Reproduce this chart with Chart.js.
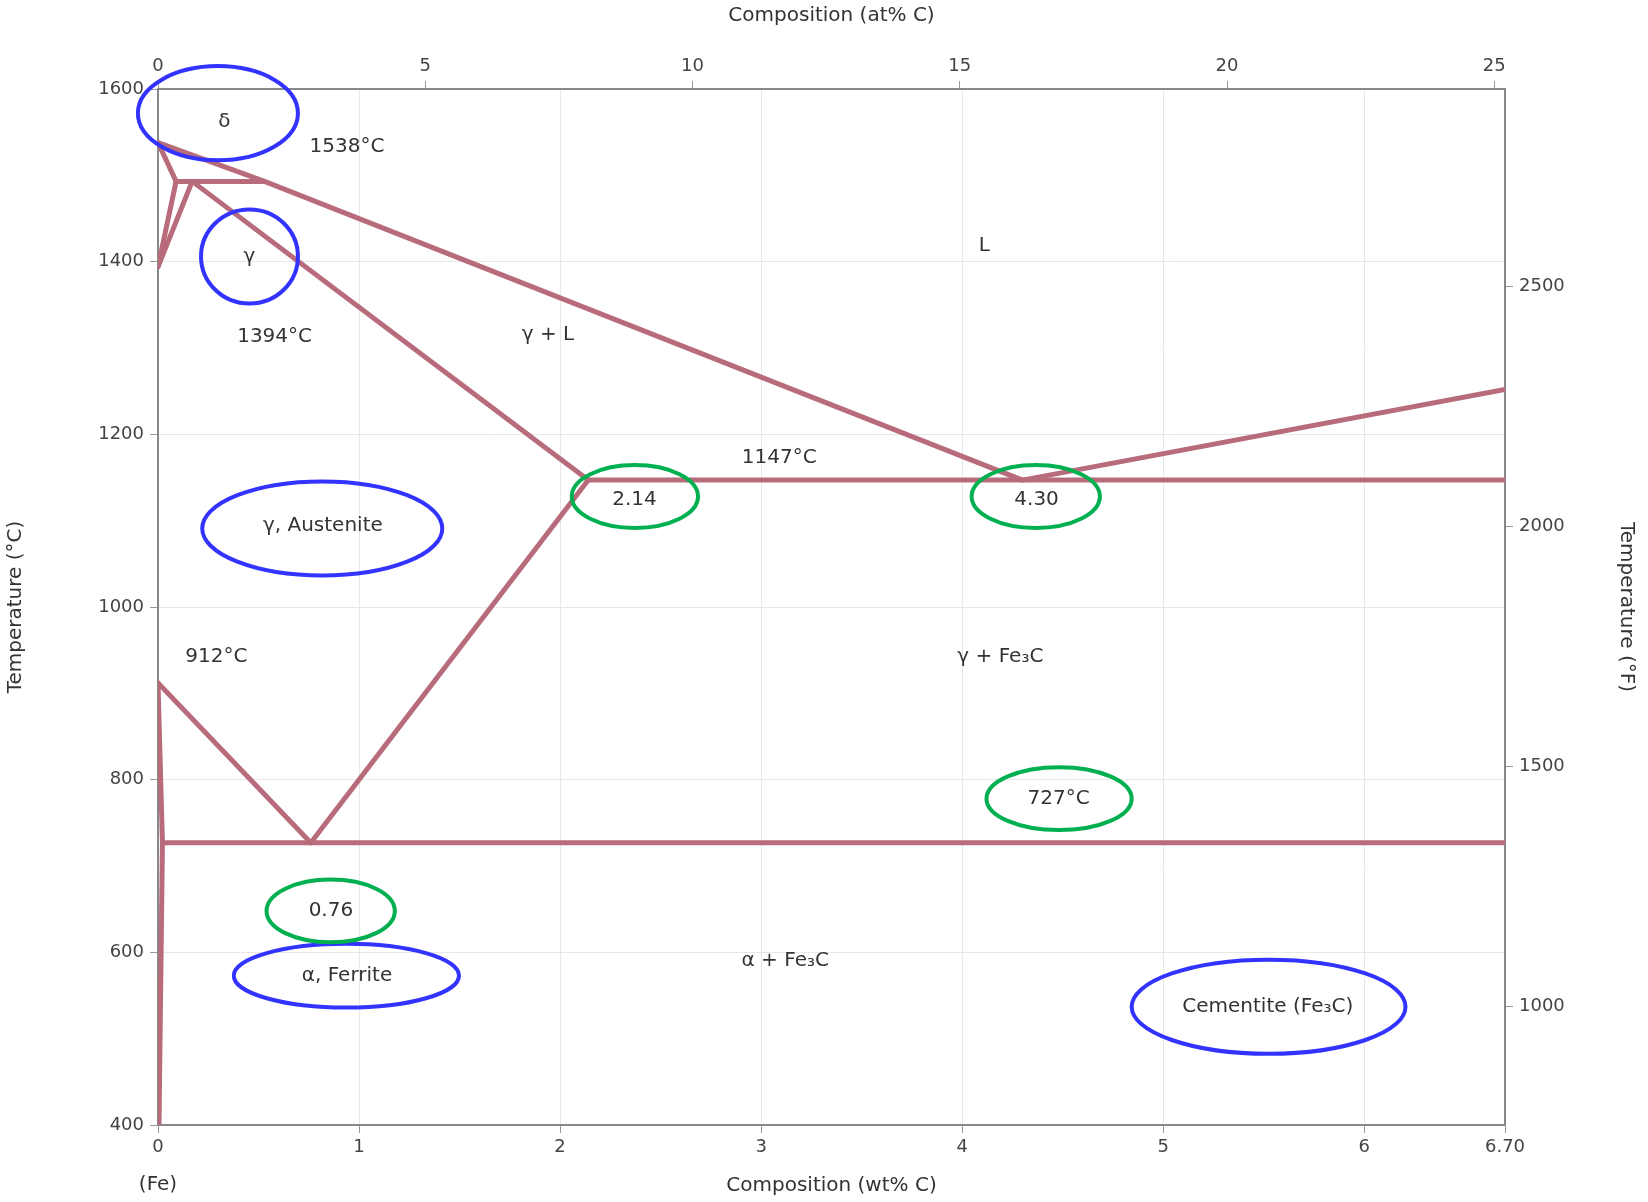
<!DOCTYPE html>
<html>
<head>
<meta charset="utf-8">
<title>Iron–iron carbide phase diagram</title>
<script src="https://cdn.jsdelivr.net/npm/chart.js@4.4.1/dist/chart.umd.min.js"></script>
<style>
  html, body { margin: 0; padding: 0; background: #ffffff; }
  #wrap { width: 1648px; height: 1202px; }
</style>
</head>
<body>
<div id="wrap"><canvas id="c" width="1648" height="1202"></canvas></div>
<script>
// Phase boundaries of the Fe–Fe3C system: [wt% C, °C]
const liquidus          = [[0, 1538], [0.53, 1493], [4.30, 1147], [6.70, 1252]];
const deltaSolidus      = [[0, 1538], [0.09, 1493]];
const peritecticLine    = [[0.09, 1493], [0.53, 1493]];
const deltaSolvus       = [[0, 1394], [0.09, 1493]];
const gammaDeltaLine    = [[0, 1394], [0.17, 1493]];
const gammaSolidus      = [[0.17, 1493], [2.14, 1147]];
const eutecticLine      = [[2.14, 1147], [6.70, 1147]];
const acmLine           = [[2.14, 1147], [0.76, 727]];
const a3Line            = [[0, 912], [0.76, 727]];
const ferriteSolvusHigh = [[0, 912], [0.022, 727]];
const eutectoidLine     = [[0.022, 727], [6.70, 727]];
const ferriteSolvusLow  = [[0.022, 727], [0.005, 400]];

// Tick values for the four axes
const wtTicks = [0, 1, 2, 3, 4, 5, 6, 6.70];
const atTicks = [0, 5, 10, 15, 20, 25];
const celsiusTicks = [400, 600, 800, 1000, 1200, 1400, 1600];
const fahrenheitTicks = [1000, 1500, 2000, 2500];

// Region and point labels: text, wt% C, °C
const labelText = ['δ', '1538°C', 'γ', '1394°C', 'γ + L', 'L', '1147°C', '2.14', '4.30',
                   'γ, Austenite', '912°C', 'γ + Fe₃C', '727°C', '0.76', 'α, Ferrite',
                   'α + Fe₃C', 'Cementite (Fe₃C)'];
const labelWt   = [0.33, 0.94, 0.455, 0.58, 1.94, 4.11, 3.09, 2.37, 4.37,
                   0.82, 0.29, 4.19, 4.48, 0.86, 0.94, 3.12, 5.52];
const labelTemp = [1562, 1533, 1406, 1313, 1315, 1418, 1173, 1124, 1124,
                   1094, 942, 942, 778, 648, 573, 590, 537];

// Highlight rings: centre (wt% C, °C) and half-extents in the same units
const ringColor = ['blue', 'blue', 'blue', 'blue', 'blue', 'green', 'green', 'green', 'green'];
const ringWt    = [0.298, 0.455, 0.817, 0.937, 5.524, 2.372, 4.366, 4.482, 0.859];
const ringTemp  = [1572, 1406, 1091, 573, 537, 1128, 1128, 778, 648];
const ringHalfW = [0.398, 0.241, 0.597, 0.560, 0.681, 0.314, 0.319, 0.361, 0.319];
const ringHalfH = [54.5, 54.5, 54.5, 37, 54.5, 36.4, 36.4, 36.4, 36.4];

const WT_MAX = 6.70;
const AT_MAX = 25.2;
const T_MIN = 400, T_MAX = 1600;
const cToF = c => c * 9 / 5 + 32;

const LINE = '#b86b7a';
const FONT = '"DejaVu Sans", "Liberation Sans", sans-serif';

const boundaries = [liquidus, deltaSolidus, peritecticLine, deltaSolvus, gammaDeltaLine,
  gammaSolidus, eutecticLine, acmLine, a3Line, ferriteSolvusHigh, eutectoidLine, ferriteSolvusLow];

const datasets = boundaries.map(seg => ({
  data: seg.map(p => ({ x: p[0], y: p[1] })),
  showLine: true,
  borderColor: LINE,
  borderWidth: 5,
  pointRadius: 0,
  fill: false,
  tension: 0,
  borderCapStyle: 'round',
  borderJoinStyle: 'round'
}));

const fixSize = (prop, size) => scale => { scale[prop] = size; };
const setTicks = values => scale => { scale.ticks = values.map(v => ({ value: v })); };
const plain = v => String(v);

const overlay = {
  id: 'overlay',
  afterDatasetsDraw(chart) {
    const { ctx, scales: { x, y } } = chart;
    ctx.save();
    ctx.fillStyle = '#333333';
    ctx.font = '20px ' + FONT;
    ctx.textAlign = 'center';
    ctx.textBaseline = 'middle';
    labelText.forEach((t, i) => {
      ctx.fillText(t, x.getPixelForValue(labelWt[i]), y.getPixelForValue(labelTemp[i]));
    });
    // "(Fe)" under the zero composition tick
    ctx.fillText('(Fe)', x.getPixelForValue(0), chart.chartArea.bottom + 60);

    ringWt.forEach((w, i) => {
      const cx = x.getPixelForValue(w);
      const cy = y.getPixelForValue(ringTemp[i]);
      const rx = Math.abs(x.getPixelForValue(w + ringHalfW[i]) - cx);
      const ry = Math.abs(y.getPixelForValue(ringTemp[i] + ringHalfH[i]) - cy);
      ctx.beginPath();
      ctx.ellipse(cx, cy, rx, ry, 0, 0, Math.PI * 2);
      ctx.lineWidth = 4;
      ctx.strokeStyle = ringColor[i] === 'blue' ? '#3333ff' : '#00b050';
      ctx.stroke();
    });
    ctx.restore();
  }
};

new Chart(document.getElementById('c'), {
  type: 'scatter',
  data: { datasets },
  options: {
    responsive: false,
    animation: false,
    layout: { padding: 0 },
    plugins: { legend: { display: false }, tooltip: { enabled: false } },
    scales: {
      x: {
        type: 'linear', position: 'bottom', min: 0, max: WT_MAX,
        afterFit: fixSize('height', 77),
        afterBuildTicks: setTicks(wtTicks),
        grid: { color: '#e8e8e8', lineWidth: 1, tickLength: 8, tickColor: '#999' },
        border: { color: '#888', width: 2 },
        ticks: { color: '#444', font: { family: FONT, size: 18 }, padding: 4,
                 callback: v => (v === WT_MAX ? '6.70' : String(v)) },
        title: { display: true, text: 'Composition (wt% C)', color: '#333',
                 font: { family: FONT, size: 20 }, padding: { top: 2, bottom: 4 } }
      },
      x2: {
        type: 'linear', position: 'top', min: 0, max: AT_MAX,
        afterFit: fixSize('height', 89),
        afterBuildTicks: setTicks(atTicks),
        grid: { drawOnChartArea: false, tickLength: 8, tickColor: '#999' },
        border: { color: '#888', width: 2 },
        ticks: { color: '#444', font: { family: FONT, size: 18 }, padding: 4, callback: plain },
        title: { display: true, text: 'Composition (at% C)', color: '#333',
                 font: { family: FONT, size: 20 }, padding: { top: 4, bottom: 10 } }
      },
      y: {
        type: 'linear', position: 'left', min: T_MIN, max: T_MAX,
        afterFit: fixSize('width', 158),
        afterBuildTicks: setTicks(celsiusTicks),
        grid: { color: '#e8e8e8', lineWidth: 1, tickLength: 8, tickColor: '#999' },
        border: { color: '#888', width: 2 },
        ticks: { color: '#444', font: { family: FONT, size: 18 }, padding: 6, callback: plain },
        title: { display: true, text: 'Temperature (°C)', color: '#333',
                 font: { family: FONT, size: 20 }, padding: { top: 4, bottom: 10 } }
      },
      y2: {
        type: 'linear', position: 'right', min: cToF(T_MIN), max: cToF(T_MAX),
        afterFit: fixSize('width', 143),
        afterBuildTicks: setTicks(fahrenheitTicks),
        grid: { drawOnChartArea: false, tickLength: 8, tickColor: '#999' },
        border: { color: '#888', width: 2 },
        ticks: { color: '#444', font: { family: FONT, size: 18 }, padding: 6, callback: plain },
        title: { display: true, text: 'Temperature (°F)', color: '#333',
                 font: { family: FONT, size: 20 }, padding: { top: 10, bottom: 4 } }
      }
    }
  },
  plugins: [overlay]
});
</script>
</body>
</html>
